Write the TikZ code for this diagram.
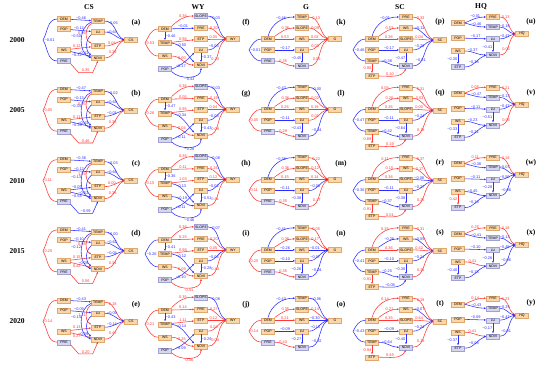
\documentclass[tikz,border=0pt]{standalone}
\usepackage{fontspec}
\setmainfont{Liberation Serif}
\newfontfamily\lab{Liberation Sans}
\usetikzlibrary{arrows.meta}
\definecolor{nred}{RGB}{255,55,55}
\definecolor{nblue}{RGB}{45,45,255}
\definecolor{boxfill}{RGB}{250,214,168}
\definecolor{boxline}{RGB}{222,168,110}
\definecolor{lavfill}{RGB}{214,214,240}
\definecolor{lavline}{RGB}{160,160,210}
\def\sgtest#1#2\relax{\ifx-#1\tikzset{color=nblue}\else\tikzset{color=nred}\fi}
\def\pcvx#1#2\relax{\ifx-#1\char"2212\relax#2\else#1#2\fi}
\newcommand\pcv[1]{\expandafter\pcvx#1\relax}

\begin{document}
\begin{tikzpicture}[x=1pt, y=-1pt,
  bx/.style={draw=boxline, fill=boxfill, line width=0.35pt, inner sep=0pt, minimum width=13pt, minimum height=5pt, font=\lab\fontsize{3.5}{3.5}\selectfont},
  bv/.style={bx, draw=lavline, fill=lavfill},
  lb/.style={font=\lab\fontsize{3.9}{3.9}\selectfont, inner sep=0.4pt},
  ar/.style={line width=0.55pt, -{Latex[length=2.2pt,width=1.8pt]}},
  cr/.style={line width=0.55pt},
  sg/.code={\expandafter\sgtest#1\relax},
  hd/.style={font=\bfseries\fontsize{7.5}{7.5}\selectfont}]
\useasboundingbox (0,0) rectangle (550,367);

% column titles and years
\foreach \nm/\xx in {CS/89, WY/198, G/306, SC/400, HQ/481}
  \node[hd] (h\nm) at (\xx,7) {\nm};
\foreach \yr [count=\k] in {2000,2005,2010,2015,2020}
  \node[hd] (y\yr) at (17,{40+70.3*(\k-1)}) {\yr};

% CS
\foreach \yo/\vjc/\vdt/\vpl/\vwe/\vwn/\vpn/\vte/\vtn/\vln/\vta/\vla/\vea/\vna/\vlt in {
  0/-0.01/-0.46/-0.12/0.12/-0.32/0.35/0.96/-0.50/-0.41/-0.05/-0.64/0.04/0.39/a,
  70.3/0.05/-0.47/-0.13/0.11/-0.36/0.46/0.95/-0.34/-0.43/-0.02/-0.64/-0.01/0.38/b,
  140.6/0.11/-0.36/-0.12/-0.05/-0.54/-0.59/1.03/-0.13/-0.51/-0.03/-0.64/0.00/0.38/c,
  210.9/0.25/-0.41/-0.10/0.15/0.42/0.56/0.98/-0.12/-0.28/-0.00/-0.62/-0.04/0.34/d,
  281.2/0.14/-0.43/-0.09/0.13/0.27/0.20/1.11/-0.14/-0.29/0.18/-0.09/-0.14/0.47/e}{
\begin{scope}[shift={(0,\yo)}]
  \node[bx] (dem) at (64,19) {DEM};
  \node[bx] (pop) at (64,29) {POP};
  \node[bx] (ws) at (64,50) {WS};
  \node[bv] (pre) at (64,61) {PRE};
  \node[bx] (temp) at (98,21) {TEMP};
  \node[bx] (lu) at (98,32) {LU};
  \node[bx] (etp) at (98,46) {ETP};
  \node[bx] (ndvi) at (98,58) {NDVI};
  \node[bx] (cs) at (131,40) {CS};
  \node[hd] (lt) at (136,23) {(\vlt)};
  \coordinate (jn) at (43,40);
  \draw[cr,sg=\vjc] (dem.west) to[out=180,in=60] (jn) to[out=-60,in=180] (pre.west);
  \node[lb,sg=\vjc,anchor=west] (jl) at (44,40) {\pcv\vjc};
  \draw[ar,sg=\vdt] (dem) -- node[lb,above]{\pcv\vdt} (temp);
  \draw[ar,sg=\vpl] (pop) -- node[lb,above,pos=.4]{\pcv\vpl} (lu);
  \draw[ar,sg=\vwe] (ws) -- node[lb,above,pos=.3]{\pcv\vwe} (etp);
  \draw[ar,sg=\vwn] (ws) -- node[lb,below,pos=.3]{\pcv\vwn} (ndvi);
  \draw[ar,sg=\vpn] (pre.south east) -- ++(8,9) -- node[lb,above]{\pcv\vpn} ++(14,0) -- (ndvi.south);
  \draw[ar,sg=\vte] (temp.south west) to[out=210,in=150] node[lb,left,pos=.5]{\pcv\vte} (etp.north west);
  \draw[ar,sg=\vtn] ([yshift=-1pt]temp.west) to[out=200,in=160] node[lb,left,pos=.42]{\pcv\vtn} (ndvi.west);
  \draw[ar,sg=\vln] (lu.south west) to[out=220,in=140] node[lb,left,pos=.85]{\pcv\vln} (ndvi.north west);
  \draw[ar,sg=\vta] (temp.east) to[out=0,in=150] node[lb,above,pos=.35]{\pcv\vta} (cs.west);
  \draw[ar,sg=\vla] (lu.east) to[out=0,in=165] node[lb,above,pos=.35]{\pcv\vla} (cs.west);
  \draw[ar,sg=\vea] (etp.east) to[out=0,in=195] node[lb,above,pos=.35]{\pcv\vea} (cs.west);
  \draw[ar,sg=\vna] (ndvi.east) to[out=0,in=210] node[lb,above,pos=.35]{\pcv\vna} (cs.west);
\end{scope}}

% WY
\foreach \yo/\vjc/\vsl/\vpr/\vdt/\vte/\vtn/\vwn/\vpl/\vpn/\vln/\vsa/\vpa/\vea/\vla/\vna/\vlt in {
  0/0.53/0.36/-0.01/-0.46/0.96/-0.50/0.00/-0.17/-0.43/-0.37/-0.03/0.20/0.05/-0.03/0.23/f,
  70.3/0.26/0.36/0.05/-0.47/0.95/-0.34/0.04/-0.11/-0.28/-0.43/-0.03/0.19/0.04/-0.03/0.09/g,
  140.6/0.15/0.36/0.11/-0.36/1.03/-0.13/-0.19/-0.11/-0.46/-0.51/-0.08/0.26/0.12/-0.02/0.41/h,
  210.9/-0.26/0.36/0.25/-0.41/0.98/-0.12/0.09/-0.10/0.41/-0.28/-0.07/0.20/0.05/-0.06/0.43/i,
  281.2/0.21/0.35/0.14/-0.43/1.11/-0.14/0.25/-0.09/0.36/-0.29/-0.08/0.27/0.12/0.04/0.04/j}{
\begin{scope}[shift={(0,\yo)}]
  \node[bx] (dem) at (165,29) {DEM};
  \node[bx] (temp) at (165,43) {TEMP};
  \node[bx] (ws) at (165,56) {WS};
  \node[bv] (pop) at (165,69) {POP};
  \node[bv] (slope) at (201,16) {SLOPE};
  \node[bx] (pre) at (201,28) {PRE};
  \node[bx] (etp) at (201,39) {ETP};
  \node[bx] (lu) at (201,50) {LU};
  \node[bx] (ndvi) at (201,65) {NDVI};
  \node[bx] (wy) at (233,39) {WY};
  \node[hd] (lt) at (246,23) {(\vlt)};
  \coordinate (jn) at (145,43);
  \draw[cr,sg=\vjc] (dem.west) to[out=180,in=60] (jn) to[out=-60,in=180] (ws.west);
  \node[lb,sg=\vjc,anchor=west] (jl) at (146,43) {\pcv\vjc};
  \draw[ar,sg=\vsl] (dem.north east) to[out=45,in=180] node[lb,above,pos=.55]{\pcv\vsl} (slope.west);
  \draw[ar,sg=\vpr] (dem) -- node[lb,above]{\pcv\vpr} (pre);
  \draw[ar,sg=\vdt] (dem) -- node[lb,right]{\pcv\vdt} (temp);
  \draw[ar,sg=\vte] (temp) -- node[lb,above]{\pcv\vte} (etp);
  \draw[ar,sg=\vtn] (temp.east) to[out=-10,in=135] node[lb,above,pos=.35]{\pcv\vtn} (ndvi.north west);
  \draw[ar,sg=\vwn] (ws.east) to[out=0,in=180] node[lb,above,pos=.45]{\pcv\vwn} (ndvi.west);
  \draw[ar,sg=\vpl] (pop.east) to[out=20,in=225] node[lb,below,pos=.35]{\pcv\vpl} (lu.south west);
  \draw[ar,sg=\vpn] (pop.south east) to[out=-45,in=-90] node[lb,below,pos=.5]{\pcv\vpn} (ndvi.south);
  \draw[ar,sg=\vln] (lu) -- node[lb,right]{\pcv\vln} (ndvi);
  \draw[ar,sg=\vsa] (slope.east) to[out=0,in=145] node[lb,above,pos=.3]{\pcv\vsa} (wy.west);
  \draw[ar,sg=\vpa] (pre.east) to[out=0,in=165] node[lb,above,pos=.3]{\pcv\vpa} (wy.west);
  \draw[ar,sg=\vea] (etp.east) to[out=0,in=180] node[lb,above,pos=.3]{\pcv\vea} (wy.west);
  \draw[ar,sg=\vla] (lu.east) to[out=0,in=195] node[lb,above,pos=.3]{\pcv\vla} (wy.west);
  \draw[ar,sg=\vna] (ndvi.east) to[out=0,in=215] node[lb,above,pos=.3]{\pcv\vna} (wy.west);
\end{scope}}

% G
\foreach \yo/\vjc/\vdt/\vsl/\vdw/\vpl/\vpn/\vln/\vta/\vsa/\vwa/\vla/\vna/\vlt in {
  0/-0.01/-0.46/0.36/0.53/-0.17/0.35/-0.45/0.13/0.09/0.03/0.00/0.05/k,
  70.3/0.05/-0.47/0.36/0.26/-0.11/0.29/-0.43/-0.00/0.02/0.19/0.01/-0.34/l,
  140.6/0.11/-0.36/0.36/0.15/-0.11/0.35/-0.38/0.22/0.12/0.14/-0.06/0.17/m,
  210.9/0.25/-0.41/0.36/-0.26/-0.10/0.35/-0.26/0.05/0.17/-0.01/-0.07/-0.04/n,
  281.2/0.14/-0.43/0.35/0.21/-0.09/0.43/-0.27/-0.06/0.14/-0.30/-0.13/-0.32/o}{
\begin{scope}[shift={(0,\yo)}]
  \node[bx] (dem) at (268,39) {DEM};
  \node[bx] (pop) at (268,50) {POP};
  \node[bv] (pre) at (268,61) {PRE};
  \node[bx] (temp) at (302,17) {TEMP};
  \node[bx] (slope) at (302,28) {SLOPE};
  \node[bx] (ws) at (302,39) {WS};
  \node[bx] (lu) at (302,50) {LU};
  \node[bv] (ndvi) at (302,66) {NDVI};
  \node[bx] (g) at (335,39) {G};
  \node[hd] (lt) at (341,23) {(\vlt)};
  \coordinate (jn) at (249,50);
  \draw[cr,sg=\vjc] (dem.west) to[out=180,in=60] (jn) to[out=-60,in=180] (pre.west);
  \node[lb,sg=\vjc,anchor=west] (jl) at (250,50) {\pcv\vjc};
  \draw[ar,sg=\vdt] (dem.north) to[out=75,in=180] node[lb,above,pos=.6]{\pcv\vdt} (temp.west);
  \draw[ar,sg=\vsl] (dem.north east) to[out=35,in=180] node[lb,above,pos=.55]{\pcv\vsl} (slope.west);
  \draw[ar,sg=\vdw] (dem) -- node[lb,above]{\pcv\vdw} (ws);
  \draw[ar,sg=\vpl] (pop) -- node[lb,above]{\pcv\vpl} (lu);
  \draw[ar,sg=\vpn] (pre.east) to[out=0,in=180] node[lb,above,pos=.4]{\pcv\vpn} (ndvi.west);
  \draw[ar,sg=\vln] (lu) -- node[lb,left]{\pcv\vln} (ndvi);
  \draw[ar,sg=\vta] (temp.east) to[out=0,in=145] node[lb,above,pos=.3]{\pcv\vta} (g.west);
  \draw[ar,sg=\vsa] (slope.east) to[out=0,in=165] node[lb,above,pos=.3]{\pcv\vsa} (g.west);
  \draw[ar,sg=\vwa] (ws.east) to[out=0,in=180] node[lb,above,pos=.3]{\pcv\vwa} (g.west);
  \draw[ar,sg=\vla] (lu.east) to[out=0,in=195] node[lb,above,pos=.3]{\pcv\vla} (g.west);
  \draw[ar,sg=\vna] (ndvi.east) to[out=0,in=215] node[lb,above,pos=.3]{\pcv\vna} (g.west);
\end{scope}}

% SC
\foreach \yo/\vjc/\vdr/\vdw/\vsl/\vpl/\vtn/\vte/\ven/\vln/\vpa/\vwa/\vsa/\vla/\vna/\vlt in {
  0/-0.46/-0.01/0.53/0.36/-0.17/-0.38/0.90/0.10/-0.47/0.33/-0.11/0.04/-0.29/-0.51/p,
  70.3/-0.47/0.05/0.26/0.36/-0.11/-0.42/0.89/0.19/-0.64/0.31/0.03/0.00/-0.24/0.18/q,
  140.6/-0.36/0.11/0.15/0.36/-0.11/-0.37/0.91/0.01/-0.38/0.37/0.17/-0.08/-0.27/0.25/r,
  210.9/-0.41/0.25/-0.26/0.36/-0.10/-0.25/0.91/-0.08/-0.30/0.31/-0.09/0.42/-0.24/0.21/s,
  281.2/-0.43/0.14/0.21/0.35/-0.09/-0.64/0.94/0.49/-0.40/0.19/-0.07/0.64/-0.24/0.33/t}{
\begin{scope}[shift={(0,\yo)}]
  \node[bx] (dem) at (372,39) {DEM};
  \node[bx] (pop) at (372,50) {POP};
  \node[bx] (temp) at (372,61) {TEMP};
  \node[bx] (etp) at (372,76) {ETP};
  \node[bx] (pre) at (406,17) {PRE};
  \node[bx] (ws) at (406,28) {WS};
  \node[bx] (slope) at (406,39) {SLOPE};
  \node[bx] (lu) at (406,50) {LU};
  \node[bv] (ndvi) at (406,66) {NDVI};
  \node[bx] (sc) at (440,40) {SC};
  \node[hd] (lt) at (440,22) {(\vlt)};
  \coordinate (jn) at (353,50);
  \draw[cr,sg=\vjc] (dem.west) to[out=180,in=60] (jn) to[out=-60,in=180] (temp.west);
  \node[lb,sg=\vjc,anchor=west] (jl) at (354,50) {\pcv\vjc};
  \draw[ar,sg=\vdr] (dem.north) to[out=75,in=180] node[lb,above,pos=.6]{\pcv\vdr} (pre.west);
  \draw[ar,sg=\vdw] (dem.north east) to[out=35,in=180] node[lb,above,pos=.55]{\pcv\vdw} (ws.west);
  \draw[ar,sg=\vsl] (dem) -- node[lb,above]{\pcv\vsl} (slope);
  \draw[ar,sg=\vpl] (pop) -- node[lb,above]{\pcv\vpl} (lu);
  \draw[ar,sg=\vtn] (temp.east) to[out=0,in=180] node[lb,above,pos=.4]{\pcv\vtn} (ndvi.west);
  \draw[ar,sg=\vte] (temp) -- node[lb,left]{\pcv\vte} (etp);
  \draw[ar,sg=\ven] (etp.east) to[out=0,in=-120] node[lb,above,pos=.35]{\pcv\ven} (ndvi.south);
  \draw[ar,sg=\vln] (lu) -- node[lb,left]{\pcv\vln} (ndvi);
  \draw[ar,sg=\vpa] (pre.east) to[out=0,in=145] node[lb,above,pos=.3]{\pcv\vpa} (sc.west);
  \draw[ar,sg=\vwa] (ws.east) to[out=0,in=165] node[lb,above,pos=.3]{\pcv\vwa} (sc.west);
  \draw[ar,sg=\vsa] (slope.east) to[out=0,in=180] node[lb,above,pos=.3]{\pcv\vsa} (sc.west);
  \draw[ar,sg=\vla] (lu.east) to[out=0,in=195] node[lb,above,pos=.3]{\pcv\vla} (sc.west);
  \draw[ar,sg=\vna] (ndvi.east) to[out=0,in=215] node[lb,above,pos=.3]{\pcv\vna} (sc.west);
\end{scope}}

% HQ
\foreach \yo/\vdr/\vdt/\vpl/\vwn/\ven/\vwe/\vln/\vpa/\vta/\vla/\vna/\vlt in {
  0/-0.01/-0.46/-0.17/-0.37/-0.38/-0.30/-0.41/0.13/-0.16/-0.47/0.05/u,
  70.3/0.05/-0.47/-0.11/-0.23/-0.21/-0.33/-0.51/0.21/-0.13/-0.47/0.03/v,
  140.6/0.11/-0.36/-0.11/-0.45/-0.18/0.42/-0.28/0.19/-0.07/-0.50/-0.06/w,
  210.9/0.25/-0.41/-0.10/0.41/-0.15/-0.40/-0.26/0.18/-0.13/-0.48/-0.06/x,
  281.2/0.14/-0.43/-0.09/0.41/-0.08/-0.37/-0.17/0.23/-0.25/-0.47/-0.01/y}{
\begin{scope}[shift={(0,\yo)}]
  \node[bx] (dem) at (458,23) {DEM};
  \node[bx] (pop) at (458,38) {POP};
  \node[bx] (ws) at (458,51) {WS};
  \node[bv] (etp) at (458,67) {ETP};
  \node[bx] (pre) at (493,17) {PRE};
  \node[bv] (temp) at (493,27) {TEMP};
  \node[bv] (lu) at (493,39) {LU};
  \node[bv] (ndvi) at (493,55) {NDVI};
  \node[bx] (hq) at (522,34) {HQ};
  \node[hd] (lt) at (531,22) {(\vlt)};
  \draw[ar,sg=\vdr] (dem.east) to[out=25,in=180] node[lb,above]{\pcv\vdr} (pre.west);
  \draw[ar,sg=\vdt] (dem.east) to[out=-15,in=180] node[lb,above,pos=.55]{\pcv\vdt} (temp.west);
  \draw[ar,sg=\vpl] (pop) -- node[lb,above]{\pcv\vpl} (lu);
  \draw[ar,sg=\vwn] (ws.east) to[out=0,in=180] node[lb,above,pos=.35]{\pcv\vwn} (ndvi.west);
  \draw[ar,sg=\ven] (etp.east) to[out=0,in=200] node[lb,above,pos=.4]{\pcv\ven} (ndvi.west);
  \draw[ar,sg=\vwe] (ws) -- node[lb,left]{\pcv\vwe} (etp);
  \draw[ar,sg=\vln] (lu) -- node[lb,left]{\pcv\vln} (ndvi);
  \draw[ar,sg=\vpa] (pre.east) to[out=0,in=145] node[lb,above,pos=.3]{\pcv\vpa} (hq.west);
  \draw[ar,sg=\vta] (temp.east) to[out=0,in=170] node[lb,above,pos=.3]{\pcv\vta} (hq.west);
  \draw[ar,sg=\vla] (lu.east) to[out=0,in=190] node[lb,above,pos=.3]{\pcv\vla} (hq.west);
  \draw[ar,sg=\vna] (ndvi.east) to[out=0,in=220] node[lb,above,pos=.3]{\pcv\vna} (hq.west);
\end{scope}}
\end{tikzpicture}
\end{document}
